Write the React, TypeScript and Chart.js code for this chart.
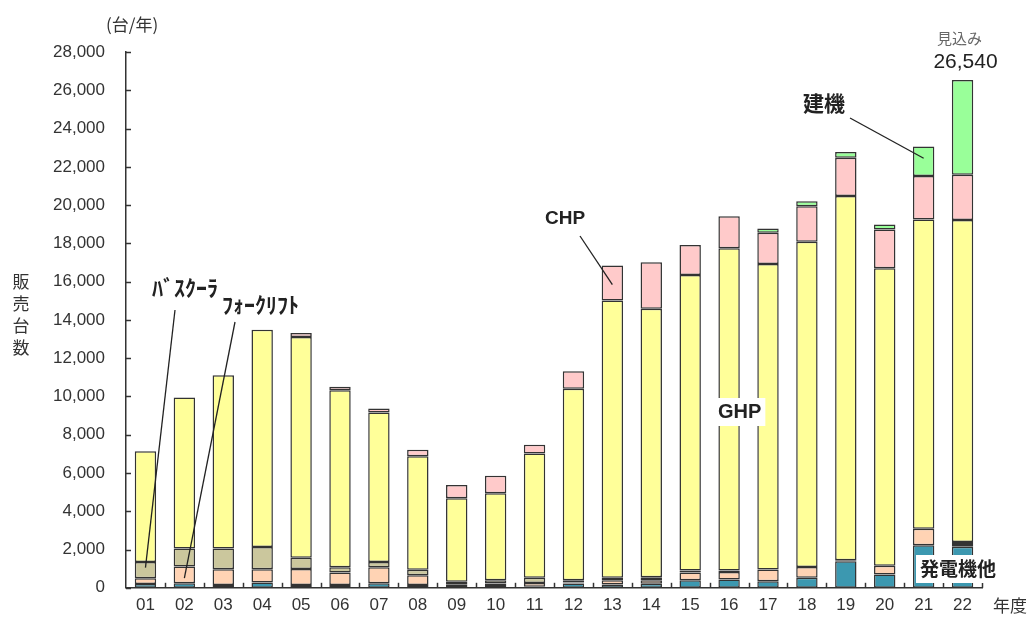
import { useEffect, useRef } from 'react';
import { Chart, registerables } from 'chart.js';

Chart.register(...registerables);

// Fiscal years (20xx)
const years = ['01', '02', '03', '04', '05', '06', '07', '08', '09', '10', '11',
  '12', '13', '14', '15', '16', '17', '18', '19', '20', '21', '22'];

// Units sold per year, by application (stacked bottom → top)
const genset = [200, 240, 140, 280, 150, 140, 240, 140, 100, 150, 50, 220, 170, 210, 400, 430, 340, 520, 1390, 690, 2220, 2140];
const forklift = [300, 870, 830, 690, 830, 660, 830, 520, 60, 80, 200, 60, 230, 190, 400, 400, 610, 570, 50, 460, 870, 150];
const busCooler = [850, 940, 1080, 1160, 590, 280, 280, 280, 150, 170, 270, 120, 120, 150, 100, 80, 0, 0, 0, 0, 0, 100];
const ghp = [5790, 7890, 9060, 11360, 11540, 9250, 7810, 5930, 4370, 4540, 6500, 10000, 14500, 14030, 15450, 16830, 15975, 17000, 19040, 15550, 16160, 16825];
const chp = [0, 0, 0, 0, 210, 180, 205, 340, 695, 920, 450, 920, 1820, 2430, 1560, 1680, 1625, 1850, 1995, 2030, 2270, 2375];
const kenki = [0, 0, 0, 0, 0, 0, 0, 0, 0, 0, 0, 0, 0, 0, 0, 0, 230, 260, 295, 260, 1545, 4950];

const yTicks = { min: 0, max: 28000, step: 2000 };

const LATIN = '"Liberation Sans", Arial, sans-serif';
const JP = '"Noto Sans CJK JP", "Noto Sans", sans-serif';
const INK = '#333';

const series = [
  { label: '発電機他', data: genset, color: '#3c98b0' },
  { label: 'フォークリフト', data: forklift, color: '#ffd3b4' },
  { label: 'バスクーラ', data: busCooler, color: '#cbc79d' },
  { label: 'GHP', data: ghp, color: '#ffff99' },
  { label: 'CHP', data: chp, color: '#ffcaca' },
  { label: '建機', data: kenki, color: '#99ff99' },
];

const stackSum = (i: number, upTo: number) =>
  series.slice(0, upTo).reduce((s, d) => s + d.data[i], 0);

const annotations = {
  id: 'annotations',
  afterDraw(chart: any) {
    const { ctx } = chart;
    const x = chart.scales.x;
    const y = chart.scales.y;
    ctx.save();

    // inward tick marks on the value axis
    ctx.strokeStyle = INK;
    ctx.lineWidth = 1.5;
    y.ticks.forEach((t: any) => {
      const py = Math.round(y.getPixelForValue(t.value)) + 0.5;
      ctx.beginPath();
      ctx.moveTo(x.left, py);
      ctx.lineTo(x.left + 5, py);
      ctx.stroke();
    });
    // category boundary marks on the year axis
    for (let i = 1; i <= years.length; i++) {
      const px = i < years.length
        ? (x.getPixelForValue(i - 1) + x.getPixelForValue(i)) / 2
        : x.right;
      ctx.beginPath();
      ctx.moveTo(Math.round(px) + 0.5, y.bottom);
      ctx.lineTo(Math.round(px) + 0.5, y.bottom - 5);
      ctx.stroke();
    }

    // leader lines
    const leader = (x0: number, y0: number, idx: number, value: number) => {
      ctx.strokeStyle = '#222';
      ctx.lineWidth = 1.3;
      ctx.beginPath();
      ctx.moveTo(x0, y0);
      ctx.lineTo(x.getPixelForValue(idx), y.getPixelForValue(value));
      ctx.stroke();
    };
    leader(175, 310, 0, stackSum(0, 2) + busCooler[0] * 0.65);
    leader(235, 322, 1, genset[1] + forklift[1] * 0.3);
    leader(580, 236, 12, stackSum(12, 4) + chp[12] * 0.45);
    leader(850, 118, 20, stackSum(20, 5) + kenki[20] * 0.6);

    const text = (s: string, px: number, py: number, font: string, color = '#222', align: CanvasTextAlign = 'left') => {
      ctx.font = font;
      ctx.fillStyle = color;
      ctx.textAlign = align;
      ctx.textBaseline = 'middle';
      ctx.fillText(s, px, py);
    };
    const boxed = (s: string, px: number, py: number, font: string) => {
      ctx.font = font;
      const w = ctx.measureText(s).width;
      ctx.fillStyle = '#fff';
      ctx.fillRect(px - 4, py - 14, w + 8, 28);
      text(s, px, py, font);
    };

    text('ﾊﾞｽｸｰﾗ', 152, 288, `bold 22px ${JP}`);
    text('ﾌｫｰｸﾘﾌﾄ', 222, 305, `bold 22px ${JP}`);
    text('CHP', 545, 219, `bold 19px ${LATIN}`);
    boxed('GHP', 718, 412, `bold 20px ${LATIN}`);
    text('建機', 803, 103, `bold 21px ${JP}`);
    boxed('発電機他', 920, 569, `bold 19px ${JP}`);

    const last = years.length - 1;
    const total = stackSum(last, series.length);
    const cx = x.getPixelForValue(last);
    text('見込み', cx - 3, 38, `15px ${JP}`, '#666', 'center');
    text(total.toLocaleString('en-US'), cx + 3, 62, `21px ${LATIN}`, '#222', 'center');

    // axis captions
    text('(台/年)', 106, 25, `17px ${JP}`, INK);
    ['販', '売', '台', '数'].forEach((c, k) => text(c, 21, 282 + k * 22, `17px ${JP}`, INK, 'center'));
    text('年度', 993, 606, `17px ${JP}`, INK);

    ctx.restore();
  },
};

export default function App() {
  const ref = useRef<HTMLCanvasElement>(null);

  useEffect(() => {
    const chart = new Chart(ref.current!, {
      type: 'bar',
      data: {
        labels: years,
        datasets: series.map((s) => ({
          label: s.label,
          data: s.data.map((v) => (v === 0 ? null : v)),
          backgroundColor: s.color,
          borderColor: '#333',
          borderWidth: 1.5,
          borderSkipped: false,
          barPercentage: 0.55,
          categoryPercentage: 1,
        })),
      },
      options: {
        responsive: false,
        animation: false,
        events: [],
        layout: { padding: { left: 0, top: 52, right: 48, bottom: 0 } },
        plugins: { legend: { display: false }, tooltip: { enabled: false } },
        scales: {
          x: {
            stacked: true,
            grid: { display: false, drawTicks: false },
            border: { display: true, color: INK, width: 1.5 },
            ticks: { color: INK, font: { family: LATIN, size: 17 }, padding: 7, maxRotation: 0 },
            afterFit: (s: any) => { s.height = 30; },
          },
          y: {
            stacked: true,
            min: yTicks.min,
            max: yTicks.max,
            grid: { display: false, drawTicks: false },
            border: { display: true, color: INK, width: 1.5 },
            ticks: {
              stepSize: yTicks.step,
              color: INK,
              font: { family: LATIN, size: 17 },
              padding: 21,
              callback: (v: any) => Number(v).toLocaleString('en-US'),
            },
            afterFit: (s: any) => { s.width = 126; },
          },
        },
      },
      plugins: [annotations],
    });
    return () => chart.destroy();
  }, []);

  return (
    <div style={{ position: 'fixed', left: 0, top: 0, width: 1030, height: 619, background: '#fff' }}>
      <canvas ref={ref} width={1030} height={619} style={{ display: 'block' }} />
    </div>
  );
}
